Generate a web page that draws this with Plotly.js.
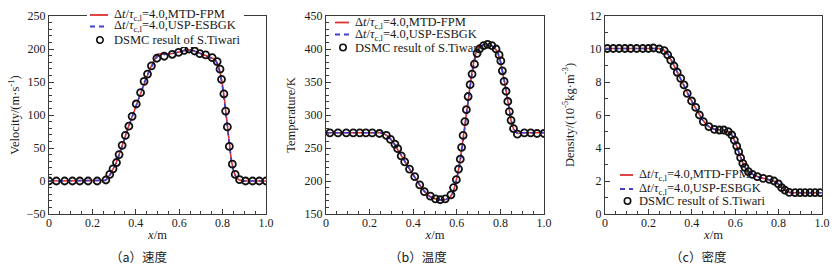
<!DOCTYPE html>
<html><head><meta charset="utf-8">
<script src="https://cdn.plot.ly/plotly-3.0.1.min.js"></script>
<style>html,body{margin:0;padding:0;background:#fff;overflow:hidden;} #chart{width:839px;height:273px;}</style>
</head><body><div id="chart"></div>
<script>
// ---------- data ----------
const xTickVals = [0, 0.2, 0.4, 0.6, 0.8, 1.0];
const xTickText = ['0', '0.2', '0.4', '0.6', '0.8', '1.0'];

const seriesNames = ['Δ<i>t</i>/<i>τ</i><sub>c,l</sub>=4.0,MTD-FPM', 'Δ<i>t</i>/<i>τ</i><sub>c,l</sub>=4.0,USP-ESBGK', 'DSMC result of S.Tiwari'];
const captions = ['（a）速度', '（b）温度', '（c）密度'];
const yTitles = ['Velocity/(m·s<sup>-1</sup>)', 'Temperature/K', 'Density/(10<sup>-5</sup>kg·m<sup>-3</sup>)'];

// (a) velocity
const velLineX = [0,0.24,0.26,0.27,0.28,0.29,0.30,0.31,0.32,0.33,0.34,0.35,0.36,0.37,0.38,0.39,0.40,0.42,0.44,0.46,0.48,0.50,0.52,0.55,0.58,0.61,0.64,0.67,0.70,0.73,0.76,0.77,0.78,0.79,0.80,0.81,0.82,0.83,0.84,0.85,0.86,0.87,0.88,0.90,1.0];
const velMTD = [0,0,1,4,9,15,21,28,37,46,56,66,77,86,95,104,114,132,151,166,180,192,193,192,194,197,199,197,193,190,185,182,176,163,145,120,89,57,32,16,7,3,1,0,0];
const velUSP = [0,0,1,4,8,14,20,28,36,45,55,65,75,85,95,104,113,131,150,165,178,189,191,192,194,197,199,197,193,190,185,181,174,160,141,115,85,54,30,15,7,3,1,0,0];
const velDsmcX = [0.0,0.034,0.072,0.108,0.142,0.18,0.222,0.262,0.28,0.295,0.311,0.323,0.337,0.352,0.368,0.383,0.402,0.422,0.438,0.454,0.472,0.497,0.531,0.568,0.597,0.623,0.645,0.671,0.695,0.722,0.752,0.775,0.788,0.795,0.806,0.814,0.822,0.831,0.845,0.858,0.878,0.906,0.938,0.969,1.0];
const velDsmc = [0,0,0,0,0,0,0,1.5,10,18.5,28,40,54,69,83,98,116.7,134,151,162,174.5,186,189,192,194.8,198,200,197,193,191,187,181,169.5,154,132,106,82,52.4,25.5,10,2,0,0,0,0];

// (b) temperature
const tempLineX = [0,0.25,0.27,0.29,0.31,0.33,0.35,0.37,0.39,0.41,0.43,0.45,0.47,0.49,0.51,0.53,0.55,0.57,0.58,0.59,0.60,0.61,0.62,0.63,0.64,0.65,0.66,0.67,0.68,0.69,0.70,0.72,0.74,0.76,0.78,0.79,0.80,0.81,0.82,0.83,0.84,0.85,0.86,0.87,0.88,0.90,1.0];
const tempMTD = [273,273,271,266,258,248,236,225,214,204,194,185,178,174,172,171,172,176,181,191,205,221,243,268,296,321,345,366,384,397,403,406,407,405,399,392,381,366,348,329,308,290,279,274,272,273,273];
const tempUSP = [273,273,271,266,258,248,237,225,214,204,194,185,178,174,172,171,172,175,180,189,202,218,239,263,291,317,341,362,381,395,402,406,407,405,400,393,382,367,349,330,309,291,280,274,272,273,273];
const tempDsmcX = [0.018,0.055,0.093,0.125,0.155,0.183,0.212,0.245,0.277,0.296,0.316,0.329,0.345,0.361,0.383,0.407,0.43,0.451,0.479,0.502,0.524,0.547,0.573,0.585,0.598,0.608,0.616,0.622,0.629,0.637,0.644,0.652,0.661,0.670,0.681,0.693,0.704,0.723,0.741,0.761,0.78,0.794,0.802,0.809,0.817,0.826,0.834,0.841,0.849,0.86,0.878,0.91,0.939,0.968,1.0];
const tempDsmc = [273,273,273,273,273,273,273,272,269,263,256,249,238,229,218,206.5,194,184,177,173,171.6,173,179,190,202,218,233,251,269,290,308,328,346,362,377,393.5,400,405,407,405,400,391,382,367,351,336,320.5,305,292,279.5,271,273,273,272,272];

// (c) density
const densLineX = [0,0.25,0.27,0.29,0.31,0.33,0.35,0.37,0.39,0.41,0.43,0.45,0.47,0.49,0.51,0.53,0.55,0.57,0.58,0.59,0.60,0.61,0.62,0.63,0.64,0.65,0.66,0.68,0.70,0.72,0.74,0.76,0.78,0.80,0.81,0.82,0.83,0.84,0.85,0.87,1.0];
const densMTD = [10.03,10.03,9.94,9.68,9.2,8.7,8.2,7.62,7.06,6.6,6.13,5.7,5.38,5.2,5.12,5.09,5.08,4.98,4.86,4.66,4.38,4.02,3.6,3.22,2.93,2.72,2.58,2.4,2.27,2.19,2.13,2.08,1.99,1.8,1.66,1.52,1.42,1.35,1.31,1.29,1.29];
const densUSP = [10.03,10.03,9.95,9.7,9.22,8.72,8.2,7.63,7.07,6.6,6.14,5.7,5.38,5.19,5.11,5.08,5.07,4.99,4.88,4.68,4.4,4.04,3.62,3.24,2.94,2.72,2.58,2.41,2.27,2.19,2.13,2.08,1.99,1.81,1.67,1.53,1.43,1.36,1.31,1.29,1.29];
const densDsmcX = [0.011,0.038,0.065,0.092,0.118,0.146,0.174,0.2,0.223,0.25,0.273,0.289,0.303,0.318,0.333,0.349,0.364,0.379,0.399,0.418,0.435,0.453,0.479,0.504,0.527,0.548,0.568,0.584,0.596,0.607,0.616,0.625,0.635,0.645,0.661,0.679,0.702,0.729,0.757,0.779,0.799,0.814,0.829,0.849,0.876,0.899,0.922,0.945,0.968,0.991];
const densDsmc = [10.03,10.03,10.03,10.03,10.03,10.03,10.03,10.03,10.06,10.0,9.9,9.64,9.33,8.97,8.59,8.22,7.82,7.31,6.85,6.46,6.0,5.6,5.29,5.13,5.09,5.09,4.99,4.79,4.48,4.12,3.78,3.41,3.07,2.83,2.57,2.4,2.26,2.16,2.1,2.0,1.82,1.6,1.45,1.31,1.29,1.29,1.29,1.29,1.29,1.29];

// ---------- layout helpers ----------
const W = 839, H = 273;
const SERIF = '"Liberation Serif","Times New Roman",Times,serif';
const CJK = '"Noto Sans CJK SC","Noto Sans CJK JP",sans-serif';
const AXC = '#3a3a3a', TXT = '#1a1a1a';
const RED = '#dd3030', BLUE = '#4040cc';
const X = p => p / W, Y = p => 1 - p / H;

const panels = [
  {lx: velLineX, m: velMTD, u: velUSP, dx: velDsmcX, d: velDsmc, px: [49, 266], yr: [-50, 250], dt: 50, mdt: 10,
   leg: {lineX: 90, lineLen: 18, textX: 112, rows: [15, 26.5, 40], bg: [87, 244, 7, 47]}, cap: 139, ysd: 4},
  {lx: tempLineX, m: tempMTD, u: tempUSP, dx: tempDsmcX, d: tempDsmc, px: [326, 544], yr: [150, 450], dt: 50, mdt: 10,
   leg: {lineX: 335, lineLen: 14, textX: 353, rows: [22.5, 34.5, 47.5]}, cap: 418, ysd: 6},
  {lx: densLineX, m: densMTD, u: densUSP, dx: densDsmcX, d: densDsmc, px: [605, 822], yr: [0, 12], dt: 2, mdt: 1,
   leg: {lineX: 620, lineLen: 13, textX: 637, rows: [175, 189, 201]}, cap: 698, ysd: 12}
];

const traces = [], shapes = [], annotations = [];
const layout = {
  width: W, height: H, margin: {l: 0, r: 0, t: 0, b: 0}, paper_bgcolor: '#fff', plot_bgcolor: '#fff',
  showlegend: false, font: {family: SERIF, size: 12, color: TXT}
};

panels.forEach((p, i) => {
  const sfx = i === 0 ? '' : String(i + 1);
  const xa = 'x' + sfx, ya = 'y' + sfx;
  traces.push({x: p.lx, y: p.m, xaxis: xa, yaxis: ya, type: 'scatter', mode: 'lines', name: seriesNames[0],
    line: {color: RED, width: 1.6}});
  traces.push({x: p.lx, y: p.u, xaxis: xa, yaxis: ya, type: 'scatter', mode: 'lines', name: seriesNames[1],
    line: {color: BLUE, width: 1.6, dash: '5px,4px'}});
  traces.push({x: p.dx, y: p.d, xaxis: xa, yaxis: ya, type: 'scatter', mode: 'markers', name: seriesNames[2],
    marker: {symbol: 'circle-open', size: 7, color: '#111', line: {width: 1.8, color: '#111'}}});

  layout['xaxis' + sfx] = {
    domain: [X(p.px[0]), X(p.px[1])], anchor: ya, range: [0, 1],
    tickmode: 'array', tickvals: xTickVals, ticktext: xTickText,
    ticks: 'inside', ticklen: 5, tickwidth: 1, tickcolor: AXC, ticklabelstandoff: -2,
    minor: {tickmode: 'linear', tick0: 0, dtick: 0.05, ticks: 'inside', ticklen: 3, tickwidth: 1, tickcolor: AXC},
    showline: true, mirror: true, linecolor: AXC, linewidth: 1, showgrid: false, zeroline: false,
    tickfont: {family: SERIF, size: 12, color: TXT},
    title: {text: '<i>x</i>/m', font: {family: SERIF, size: 12.5, color: TXT}, standoff: 0},
    fixedrange: true
  };
  layout['yaxis' + sfx] = {
    domain: [Y(214), Y(16)], anchor: xa, range: p.yr,
    tickmode: 'linear', tick0: p.yr[0], dtick: p.dt,
    ticks: 'inside', ticklen: 5, tickwidth: 1, tickcolor: AXC,
    minor: {tickmode: 'linear', tick0: p.yr[0], dtick: p.mdt, ticks: 'inside', ticklen: 3, tickwidth: 1, tickcolor: AXC},
    showline: true, mirror: true, linecolor: AXC, linewidth: 1, showgrid: false, zeroline: false,
    tickfont: {family: SERIF, size: 12, color: TXT},
    title: {text: yTitles[i], font: {family: SERIF, size: 12.5, color: TXT}, standoff: p.ysd},
    fixedrange: true
  };

  // legend (drawn manually for compact Tecplot-like spacing)
  const L = p.leg;
  if (L.bg) {
    shapes.push({type: 'rect', xref: 'paper', yref: 'paper', layer: 'above',
      x0: X(L.bg[0]), x1: X(L.bg[1]), y0: Y(L.bg[3]), y1: Y(L.bg[2]), fillcolor: '#fff', line: {width: 0}});
  }
  shapes.push({type: 'line', xref: 'paper', yref: 'paper', layer: 'above',
    x0: X(L.lineX), x1: X(L.lineX + L.lineLen), y0: Y(L.rows[0]), y1: Y(L.rows[0]), line: {color: RED, width: 1.8}});
  shapes.push({type: 'line', xref: 'paper', yref: 'paper', layer: 'above',
    x0: X(L.lineX), x1: X(L.lineX + L.lineLen), y0: Y(L.rows[1]), y1: Y(L.rows[1]), line: {color: BLUE, width: 1.8, dash: '5px,4px'}});
  const cx = L.lineX + L.lineLen / 2 + 1, cy = L.rows[2], r = 3.2;
  shapes.push({type: 'circle', xref: 'paper', yref: 'paper', layer: 'above',
    x0: X(cx - r), x1: X(cx + r), y0: Y(cy + r), y1: Y(cy - r), line: {color: '#111', width: 1.6}, fillcolor: 'rgba(0,0,0,0)'});
  seriesNames.forEach((nm, k) => {
    annotations.push({xref: 'paper', yref: 'paper', x: X(L.textX), y: Y(L.rows[k]), xanchor: 'left', yanchor: 'middle',
      text: nm, showarrow: false, font: {family: SERIF, size: 12.5, color: TXT}});
  });

  // caption
  annotations.push({xref: 'paper', yref: 'paper', x: X(p.cap), y: Y(256), xanchor: 'center', yanchor: 'middle',
    text: captions[i], showarrow: false, font: {family: CJK, size: 12.5, color: TXT}});
});

layout.shapes = shapes;
layout.annotations = annotations;

Plotly.newPlot('chart', traces, layout, {displayModeBar: false, staticPlot: true});
</script>
</body></html>
